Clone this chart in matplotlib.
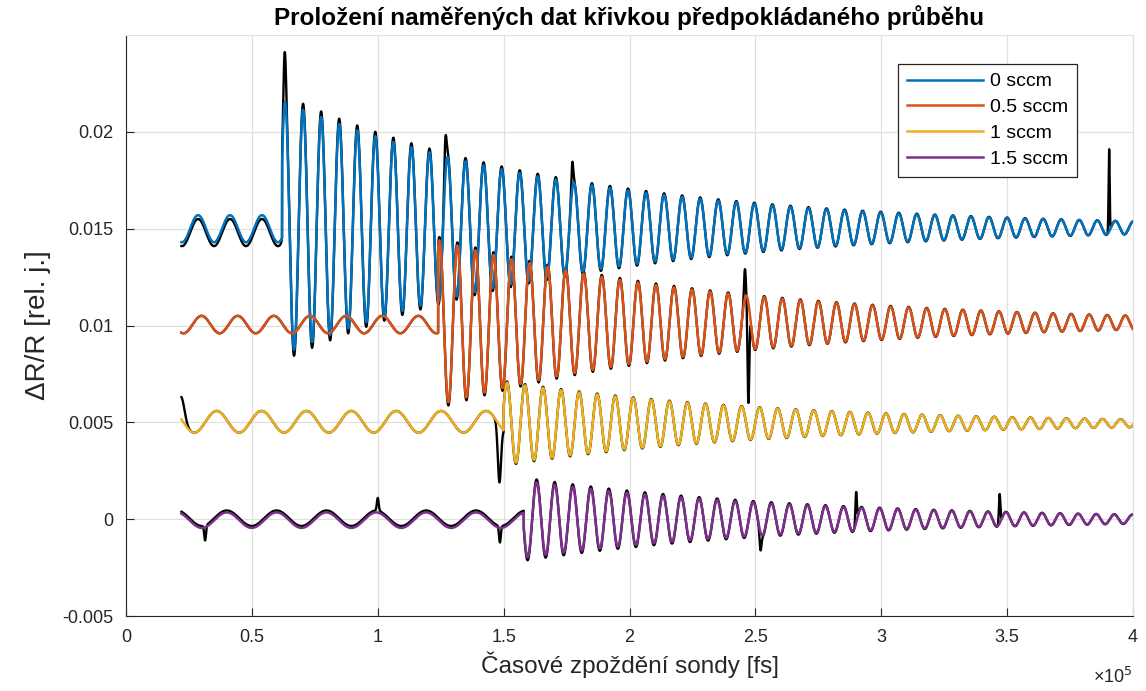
"""Fit of measured transient reflectivity with the assumed damped oscillation."""
import numpy as np
import matplotlib
matplotlib.use('Agg')
import matplotlib.pyplot as plt
from matplotlib.ticker import FuncFormatter

# series labels and MATLAB default colours
labels = ['0 sccm', '0.5 sccm', '1 sccm', '1.5 sccm']
colors = ['#0072BD', '#D95319', '#EDB120', '#7E2F8E']

# time range of the measurement [fs]
t_first = 22000
t_last = 400000

# slow oscillation before the pump pulse
pre_center = [0.0150, 0.01005, 0.00503, -0.00005]
pre_amp = [0.0007, 0.00045, 0.00056, 0.0004]
pre_period = [12700, 14350, 17830, 19800]
pre_peak = [28600, 30000, 36000, 40000]

# damped oscillation after the pump pulse
onset = [62000, 124000, 150000, 158000]
post_center = [0.01505, 0.01015, 0.00495, 0.0]
post_amp = [0.0065, 0.00425, 0.0021, 0.0019]
post_peak = [63160, 124460, 151300, 163100]
post_period = [7170, 7170, 7170, 7170]
tau = [112000, 110000, 105000, 110000]

# measured data: amplitude relative to the fit, offset before onset and visible spikes
meas_amp_ratio = [1.05, 1.04, 1.03, 1.08]
meas_pre_shift = [-0.0002, 0.0, 0.0, 0.0001]
spike_t = [[63000, 126800, 177200, 390500],
           [245800, 247200],
           [22000, 148300],
           [31400, 100000, 148500, 252000, 290000, 347000]]
spike_v = [[0.0241, 0.0196, 0.0184, 0.0191],
           [0.0129, 0.0060],
           [0.0063, 0.0019],
           [-0.0012, 0.0010, -0.0013, -0.0016, 0.0014, 0.0013]]
spike_w = [[700, 600, 500, 300],
           [500, 500],
           [1800, 900],
           [500, 500, 500, 500, 400, 400]]


def fit_curve(t, i, amp_ratio=1.0):
    """Assumed course of the signal for series i."""
    y_pre = pre_center[i] + pre_amp[i]*np.cos(2*np.pi*(t - pre_peak[i])/pre_period[i])
    y_post = post_center[i] + amp_ratio*post_amp[i]*np.exp(-(t - post_peak[i])/tau[i]) \
        * np.cos(2*np.pi*(t - post_peak[i])/post_period[i])
    return np.where(t < onset[i], y_pre, y_post)


def measured_curve(t, i):
    """Measured data = fit with slightly different amplitude plus the spikes."""
    y = fit_curve(t, i, meas_amp_ratio[i])
    y = y + np.where(t < onset[i], meas_pre_shift[i], 0.0)
    for ts, vs, ws in zip(spike_t[i], spike_v[i], spike_w[i]):
        base = fit_curve(np.array([ts]), i, meas_amp_ratio[i])[0]
        y = y + (vs - base)*np.exp(-((t - ts)/ws)**2)
    return y


plt.rcParams['font.family'] = ['Liberation Sans', 'DejaVu Sans']
plt.rcParams['axes.unicode_minus'] = False

fig = plt.figure(figsize=(11.46, 6.91), dpi=100)
ax = fig.add_axes([0.110, 0.1085, 0.8787, 0.8408])

t = np.arange(t_first, t_last + 1, 50.0)
for i in range(len(labels)):
    ax.plot(t, measured_curve(t, i), color='k', lw=1.7, zorder=2)
for i in range(len(labels)):
    ax.plot(t, fit_curve(t, i), color=colors[i], lw=1.8, label=labels[i], zorder=3)

ax.set_xlim(0, 400000)
ax.set_ylim(-0.005, 0.025)
ax.set_xticks(np.arange(0, 400001, 50000))
ax.set_yticks([-0.005, 0, 0.005, 0.01, 0.015, 0.02])
ax.xaxis.set_major_formatter(FuncFormatter(lambda v, p: '%g' % (v/1e5)))
ax.yaxis.set_major_formatter(FuncFormatter(lambda v, p: '%g' % round(v, 4)))
ax.grid(True, color='#e0e0e0', lw=0.9)
ax.set_axisbelow(True)
ax.tick_params(direction='in', length=6, width=0.8, labelsize=13, colors='#262626', pad=9)
for s in ['left', 'bottom']:
    ax.spines[s].set_color('#262626')
for s in ['top', 'right']:
    ax.spines[s].set_color('#e0e0e0')

ax.set_title('Proložení naměřených dat křivkou předpokládaného průběhu',
             fontsize=17.5, fontweight='bold', pad=7)
ax.set_xlabel('Časové zpoždění sondy [fs]', fontsize=17.5, color='#262626', labelpad=4)
ax.set_ylabel('ΔR/R [rel. j.]', fontsize=20, color='#262626', labelpad=8)
ax.text(1.0, -0.087, '×10$^5$', transform=ax.transAxes, ha='right', va='top',
        fontsize=13, color='#262626')

leg = ax.legend(loc='upper right', bbox_to_anchor=(0.944, 0.950), borderaxespad=0,
                fontsize=14, handlelength=3.9, fancybox=False, framealpha=1,
                borderpad=0.45, labelspacing=0.42, handletextpad=0.35)
leg.get_frame().set_edgecolor('#262626')
leg.get_frame().set_linewidth(0.9)

fig.savefig('out.png', dpi=100)
